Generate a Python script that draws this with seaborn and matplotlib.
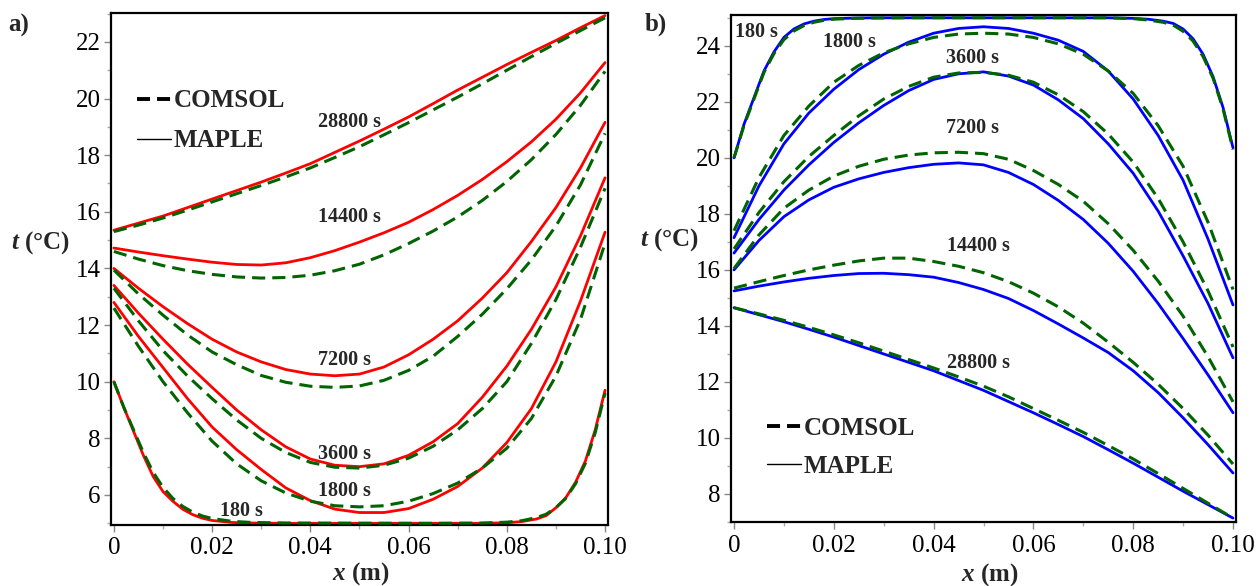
import matplotlib
matplotlib.use("Agg")
import matplotlib.pyplot as plt
import seaborn as sns
from matplotlib.lines import Line2D
from matplotlib.ticker import MultipleLocator

# ---------------- data ----------------
x_grid = [0.000, 0.005, 0.010, 0.015, 0.020, 0.025, 0.030, 0.035, 0.040, 0.045, 0.050,
          0.055, 0.060, 0.065, 0.070, 0.075, 0.080, 0.085, 0.090, 0.095, 0.100]
x_180 = [0.000, 0.002, 0.004, 0.006, 0.008, 0.010, 0.012, 0.014, 0.016, 0.018, 0.020,
         0.024, 0.028, 0.035, 0.065, 0.075, 0.080, 0.083, 0.086, 0.088, 0.090, 0.092,
         0.094, 0.096, 0.098, 0.100]

times = ["180 s", "1800 s", "3600 s", "7200 s", "14400 s", "28800 s"]

# Panel a) MAPLE (solid red) and COMSOL (dashed green)
a_maple_180 = [10.0, 9.1, 8.25, 7.4, 6.65, 6.12, 5.78, 5.5, 5.31, 5.18, 5.1, 5.03, 5.01,
               5.0, 5.0, 5.0, 5.02, 5.06, 5.15, 5.27, 5.55, 5.9, 6.45, 7.2, 8.3, 9.7]
a_comsol_180 = [10.0, 9.1, 8.3, 7.5, 6.8, 6.27, 5.88, 5.6, 5.4, 5.26, 5.17, 5.07, 5.03,
                5.01, 5.0, 5.01, 5.04, 5.09, 5.2, 5.32, 5.55, 5.88, 6.4, 7.12, 8.2, 9.6]
a_maple_1800 = [12.8, 11.6, 10.5, 9.4, 8.4, 7.6, 6.9, 6.25, 5.8, 5.5, 5.38, 5.38, 5.52,
                5.85, 6.3, 6.95, 7.85, 9.05, 10.7, 12.85, 15.28]
a_comsol_1800 = [12.6, 11.25, 10.0, 8.9, 7.9, 7.1, 6.5, 6.07, 5.78, 5.62, 5.58, 5.62, 5.78,
                 6.05, 6.42, 6.95, 7.65, 8.7, 10.2, 12.2, 14.89]
a_maple_3600 = [13.4, 12.42, 11.5, 10.62, 9.8, 9.0, 8.3, 7.7, 7.27, 7.05, 7.0, 7.1, 7.4,
                7.88, 8.52, 9.45, 10.55, 11.85, 13.35, 15.15, 17.2]
a_comsol_3600 = [13.3, 12.15, 11.1, 10.2, 9.4, 8.65, 8.0, 7.5, 7.15, 6.98, 6.95, 7.05, 7.3,
                 7.72, 8.3, 9.05, 10.0, 11.35, 12.9, 14.75, 16.83]
a_maple_7200 = [14.0, 13.3, 12.65, 12.05, 11.5, 11.05, 10.7, 10.43, 10.27, 10.21, 10.27,
                10.52, 10.95, 11.5, 12.15, 12.95, 13.85, 14.95, 16.15, 17.55, 19.16]
a_comsol_7200 = [13.94, 13.1, 12.35, 11.65, 11.05, 10.6, 10.22, 9.98, 9.84, 9.8, 9.85,
                 10.05, 10.4, 10.9, 11.6, 12.38, 13.28, 14.3, 15.5, 16.95, 18.77]
a_maple_14400 = [14.72, 14.58, 14.45, 14.33, 14.22, 14.14, 14.12, 14.2, 14.38, 14.63, 14.93,
                 15.26, 15.63, 16.08, 16.58, 17.14, 17.77, 18.47, 19.27, 20.2, 21.27]
a_comsol_14400 = [14.6, 14.33, 14.1, 13.92, 13.79, 13.7, 13.66, 13.68, 13.76, 13.92, 14.15,
                  14.48, 14.88, 15.32, 15.82, 16.4, 17.07, 17.84, 18.73, 19.76, 20.96]
a_maple_28800 = [15.35, 15.6, 15.85, 16.15, 16.45, 16.75, 17.05, 17.37, 17.7, 18.1, 18.5,
                 18.92, 19.35, 19.82, 20.3, 20.75, 21.2, 21.63, 22.05, 22.5, 22.93]
a_comsol_28800 = [15.3, 15.53, 15.78, 16.06, 16.35, 16.64, 16.93, 17.23, 17.55, 17.92, 18.3,
                  18.72, 19.15, 19.6, 20.05, 20.52, 21.0, 21.48, 21.95, 22.4, 22.85]

# Panel b) MAPLE (solid blue) and COMSOL (dashed green)
b_maple_180 = [20.0, 21.2, 22.15, 23.1, 23.78, 24.3, 24.6, 24.78, 24.88, 24.94, 24.97, 24.99,
               25.0, 25.0, 25.0, 25.0, 24.98, 24.95, 24.88, 24.8, 24.6, 24.25, 23.7, 22.9,
               21.8, 20.36]
b_comsol_180 = [20.0, 21.15, 22.1, 23.05, 23.72, 24.22, 24.53, 24.72, 24.84, 24.91, 24.95,
                24.98, 24.99, 25.0, 25.0, 25.0, 24.97, 24.92, 24.84, 24.74, 24.52, 24.17,
                23.62, 22.85, 21.75, 20.3]
b_maple_1800 = [17.15, 19.0, 20.5, 21.6, 22.45, 23.15, 23.7, 24.13, 24.45, 24.62, 24.68,
                24.62, 24.45, 24.2, 23.8, 23.1, 22.1, 20.8, 19.2, 17.1, 14.75]
b_comsol_1800 = [17.4, 19.3, 20.8, 21.85, 22.7, 23.3, 23.75, 24.07, 24.3, 24.42, 24.45,
                 24.42, 24.3, 24.07, 23.7, 23.1, 22.3, 21.15, 19.7, 17.7, 15.3]
b_maple_3600 = [16.6, 17.8, 18.85, 19.75, 20.55, 21.25, 21.87, 22.4, 22.8, 23.0, 23.07,
                22.92, 22.6, 22.07, 21.4, 20.5, 19.45, 18.1, 16.5, 14.8, 12.86]
b_comsol_3600 = [16.75, 18.05, 19.15, 20.05, 20.8, 21.5, 22.1, 22.55, 22.88, 23.03, 23.05,
                 22.95, 22.7, 22.25, 21.65, 20.85, 19.85, 18.55, 17.0, 15.25, 13.25]
b_maple_7200 = [16.0, 17.05, 17.9, 18.5, 18.95, 19.25, 19.48, 19.65, 19.77, 19.82, 19.75,
                19.48, 19.05, 18.48, 17.8, 16.95, 15.95, 14.8, 13.55, 12.25, 10.9]
b_comsol_7200 = [16.05, 17.25, 18.2, 18.85, 19.35, 19.7, 19.95, 20.1, 20.18, 20.2, 20.15,
                 19.95, 19.55, 19.05, 18.45, 17.65, 16.7, 15.6, 14.35, 12.9, 11.29]
b_maple_14400 = [15.25, 15.42, 15.57, 15.7, 15.8, 15.87, 15.88, 15.83, 15.74, 15.55, 15.3,
                 14.98, 14.55, 14.07, 13.57, 13.05, 12.4, 11.62, 10.72, 9.76, 8.75]
b_comsol_14400 = [15.35, 15.58, 15.8, 16.0, 16.17, 16.32, 16.42, 16.42, 16.3, 16.13, 15.9,
                  15.58, 15.17, 14.68, 14.1, 13.42, 12.7, 11.92, 11.05, 10.1, 9.07]
b_maple_28800 = [14.65, 14.4, 14.15, 13.88, 13.6, 13.3, 13.0, 12.7, 12.4, 12.05, 11.7,
                 11.3, 10.9, 10.48, 10.05, 9.58, 9.1, 8.6, 8.1, 7.62, 7.14]
b_comsol_28800 = [14.65, 14.43, 14.2, 13.95, 13.68, 13.4, 13.1, 12.8, 12.5, 12.18, 11.85,
                  11.47, 11.05, 10.63, 10.2, 9.73, 9.25, 8.73, 8.2, 7.67, 7.14]

x_ticks = [0.0, 0.02, 0.04, 0.06, 0.08, 0.10]
x_tick_labels = ["0", "0.02", "0.04", "0.06", "0.08", "0.10"]
a_yticks = [6, 8, 10, 12, 14, 16, 18, 20, 22]
b_yticks = [8, 10, 12, 14, 16, 18, 20, 22, 24]

# label positions (data coords)
a_label_pos = {"180 s": (0.0259, 5.44), "1800 s": (0.047, 6.14), "3600 s": (0.047, 7.45),
               "7200 s": (0.047, 10.76), "14400 s": (0.048, 15.8), "28800 s": (0.048, 19.16)}
b_label_pos = {"180 s": (0.0044, 24.5), "1800 s": (0.0232, 24.14), "3600 s": (0.0477, 23.57),
               "7200 s": (0.0477, 21.07), "14400 s": (0.0489, 16.86), "28800 s": (0.0489, 12.68)}

# ---------------- style ----------------
sns.set_style("ticks")
plt.rcParams['font.family'] = ['Liberation Serif', 'DejaVu Serif']
plt.rcParams['mathtext.fontset'] = 'custom'
plt.rcParams['mathtext.it'] = 'Liberation Serif:italic:bold'
plt.rcParams['mathtext.rm'] = 'Liberation Serif:bold'

RED = '#ff0000'
BLUE = '#0000ff'
GREEN = '#006400'
DASH = (0, (4.3, 2.3))

fig = plt.figure(figsize=(12.58, 5.86), dpi=100)
ax_a = fig.add_axes([0.0882, 0.1041, 0.3951, 0.8737])
ax_b = fig.add_axes([0.5811, 0.1092, 0.4014, 0.8652])

a_maple = [a_maple_180, a_maple_1800, a_maple_3600, a_maple_7200, a_maple_14400, a_maple_28800]
a_comsol = [a_comsol_180, a_comsol_1800, a_comsol_3600, a_comsol_7200, a_comsol_14400, a_comsol_28800]
b_maple = [b_maple_180, b_maple_1800, b_maple_3600, b_maple_7200, b_maple_14400, b_maple_28800]
b_comsol = [b_comsol_180, b_comsol_1800, b_comsol_3600, b_comsol_7200, b_comsol_14400, b_comsol_28800]


def draw(ax, maple, comsol, mcolor):
    for i, (m, c) in enumerate(zip(maple, comsol)):
        xs = x_180 if i == 0 else x_grid
        sns.lineplot(x=xs, y=m, ax=ax, color=mcolor, lw=2.0, errorbar=None, zorder=2)
        sns.lineplot(x=xs, y=c, ax=ax, color=GREEN, lw=2.2, linestyle=DASH,
                     errorbar=None, zorder=3)


draw(ax_a, a_maple, a_comsol, RED)
draw(ax_b, b_maple, b_comsol, BLUE)

for ax, yt, ylim in [(ax_a, a_yticks, (4.94, 23.02)), (ax_b, b_yticks, (7.0, 25.1))]:
    ax.set_xlim(-0.0006, 0.1006)
    ax.set_ylim(*ylim)
    ax.set_xticks(x_ticks)
    ax.set_xticklabels(x_tick_labels)
    ax.set_yticks(yt)
    ax.set_yticklabels([str(v) for v in yt])
    ax.xaxis.set_minor_locator(MultipleLocator(0.01))
    ax.yaxis.set_minor_locator(MultipleLocator(1))
    ax.tick_params(which='major', direction='out', length=5, width=1, color='#888888',
                   labelsize=18, labelcolor='black', pad=4, top=False, right=False)
    ax.tick_params(axis='y', which='major', pad=2.5)
    ax.tick_params(which='minor', direction='out', length=3, width=1, color='#aaaaaa',
                   top=False, right=False)
    for s in ax.spines.values():
        s.set_visible(True)
        s.set_linewidth(1.6)
        s.set_color('black')
    ax.set_xlabel('')
    ax.set_ylabel('')

for ax, pos in [(ax_a, a_label_pos), (ax_b, b_label_pos)]:
    for t in times:
        px, py = pos[t]
        ax.text(px, py, t, ha='center', va='center', fontsize=14.5, fontweight='bold',
                zorder=5)

handles = [Line2D([], [], color='black', lw=2.8, linestyle=(0, (3.35, 1.8))),
           Line2D([], [], color='black', lw=1.0)]
labels = ['COMSOL', 'MAPLE']
prop = {'family': 'Liberation Serif', 'weight': 'bold', 'size': 18}
ax_a.legend(handles, labels, loc='upper left', bbox_to_anchor=(0.052, 0.851),
            frameon=False, prop=prop, handlelength=1.35, handletextpad=0.12,
            labelspacing=0.68, borderpad=0, borderaxespad=0)
ax_b.legend(handles, labels, loc='upper left', bbox_to_anchor=(0.071, 0.207),
            frameon=False, prop=prop, handlelength=1.35, handletextpad=0.12,
            labelspacing=0.6, borderpad=0, borderaxespad=0)

W, H = 1258, 586
fig.text(8 / W, 1 - 25 / H, 'a)', fontsize=18, fontweight='bold', ha='left', va='center')
fig.text(645 / W, 1 - 24 / H, 'b)', fontsize=18, fontweight='bold', ha='left', va='center')
fig.text(40 / W, 1 - 243 / H, r'$t$ (°C)', fontsize=18, fontweight='bold', ha='center', va='center')
fig.text(669 / W, 1 - 240 / H, r'$t$ (°C)', fontsize=18, fontweight='bold', ha='center', va='center')
fig.text(361 / W, 1 - 574 / H, r'$x$ (m)', fontsize=18, fontweight='bold', ha='center', va='center')
fig.text(990 / W, 1 - 575 / H, r'$x$ (m)', fontsize=18, fontweight='bold', ha='center', va='center')

fig.savefig('out.png', dpi=100)
